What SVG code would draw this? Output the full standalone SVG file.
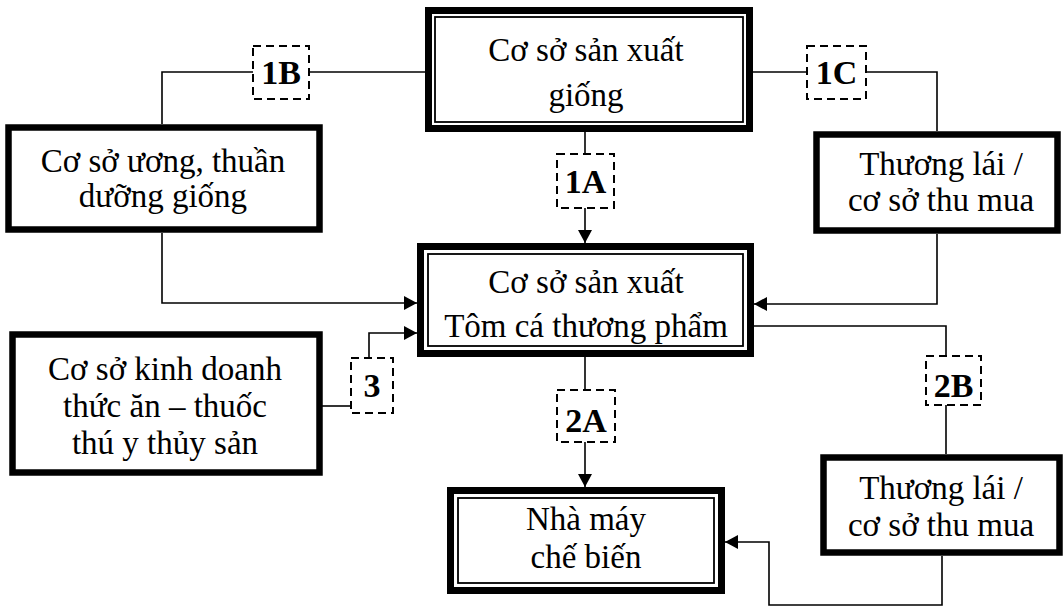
<svg xmlns="http://www.w3.org/2000/svg" width="1063" height="608" viewBox="0 0 1063 608">
  <style>
    .txt { font-family: "Liberation Serif", "Times New Roman", serif; font-size: 33px; fill: #000; text-anchor: middle; }
    .lbl { font-family: "Liberation Serif", "Times New Roman", serif; font-size: 34px; font-weight: bold; fill: #000; text-anchor: middle; }
    .thick { fill: #fff; stroke: #000; stroke-width: 6.5; }
    .outer { fill: #fff; stroke: #000; stroke-width: 7; }
    .inner { fill: none; stroke: #000; stroke-width: 1.8; }
    .dash { fill: #fff; stroke: #000; stroke-width: 2; stroke-dasharray: 8 5; }
    .conn { fill: none; stroke: #000; stroke-width: 1.6; }
  </style>
  <defs>
    <marker id="arrow" markerUnits="userSpaceOnUse" markerWidth="14" markerHeight="14" refX="13" refY="7" orient="auto">
      <path d="M0,0 L13,7 L0,14 z" fill="#000"/>
    </marker>
  </defs>
  <rect width="1063" height="608" fill="#fff"/>

  <!-- connectors -->
  <g id="connectors">
    <path class="conn" d="M585,132 V154"/>
    <path class="conn" d="M585,208 V243" marker-end="url(#arrow)"/>
    <path class="conn" d="M425,72 H309"/>
    <path class="conn" d="M253,72 H162 V124"/>
    <path class="conn" d="M162,233 V303 H417" marker-end="url(#arrow)"/>
    <path class="conn" d="M322,406 H351"/>
    <path class="conn" d="M369,358 V333 H417" marker-end="url(#arrow)"/>
    <path class="conn" d="M753,72 H807"/>
    <path class="conn" d="M866,72 H937 V131"/>
    <path class="conn" d="M937,234 V304 H754" marker-end="url(#arrow)"/>
    <path class="conn" d="M754,326 H946 V356"/>
    <path class="conn" d="M946,405 V454"/>
    <path class="conn" d="M585,357 V390"/>
    <path class="conn" d="M585,442 V487" marker-end="url(#arrow)"/>
    <path class="conn" d="M942,556 V605 H769 V542 H725" marker-end="url(#arrow)"/>
  </g>

  <!-- seed production (top) -->
  <g id="node-giong">
    <rect class="outer" x="428.5" y="10.5" width="321" height="118"/>
    <rect class="inner" x="435" y="17" width="308" height="105"/>
    <text class="txt" x="586" y="61">Cơ sở sản xuất</text>
    <text class="txt" x="586" y="106">giống</text>
  </g>

  <!-- nursery -->
  <g id="node-uong">
    <rect class="thick" x="8.5" y="127.5" width="311" height="102"/>
    <text class="txt" x="163" y="172">Cơ sở ương, thuần</text>
    <text class="txt" x="163" y="207">dưỡng giống</text>
  </g>

  <!-- trader (top right) -->
  <g id="node-thuonglai1">
    <rect class="thick" x="816.5" y="134.5" width="241" height="96"/>
    <text class="txt" x="941" y="175">Thương lái /</text>
    <text class="txt" x="941" y="211">cơ sở thu mua</text>
  </g>

  <!-- commercial farming (center) -->
  <g id="node-thuongpham">
    <rect class="outer" x="420.5" y="246.5" width="330" height="107"/>
    <rect class="inner" x="428" y="254" width="315" height="92"/>
    <text class="txt" x="586" y="293">Cơ sở sản xuất</text>
    <text class="txt" x="586" y="337">Tôm cá thương phẩm</text>
  </g>

  <!-- feed and veterinary supplies -->
  <g id="node-thucan">
    <rect class="thick" x="12.5" y="334.5" width="307" height="138"/>
    <text class="txt" x="165" y="380">Cơ sở kinh doanh</text>
    <text class="txt" x="165" y="417">thức ăn – thuốc</text>
    <text class="txt" x="165" y="454">thú y thủy sản</text>
  </g>

  <!-- trader (bottom right) -->
  <g id="node-thuonglai2">
    <rect class="thick" x="823.5" y="457.5" width="236" height="95"/>
    <text class="txt" x="941" y="499">Thương lái /</text>
    <text class="txt" x="941" y="536">cơ sở thu mua</text>
  </g>

  <!-- processing plant -->
  <g id="node-nhamay">
    <rect class="outer" x="450.5" y="490.5" width="271" height="100"/>
    <rect class="inner" x="458" y="498" width="256" height="85"/>
    <text class="txt" x="586" y="530">Nhà máy</text>
    <text class="txt" x="586" y="568">chế biến</text>
  </g>

  <!-- flow labels -->
  <g id="label-1A">
    <rect class="dash" x="557" y="154" width="57" height="54"/>
    <text class="lbl" x="585.5" y="193">1A</text>
  </g>
  <g id="label-1B">
    <rect class="dash" x="253" y="46" width="56" height="53"/>
    <text class="lbl" x="281" y="84">1B</text>
  </g>
  <g id="label-1C">
    <rect class="dash" x="807" y="46" width="59" height="53"/>
    <text class="lbl" x="836.5" y="84">1C</text>
  </g>
  <g id="label-2A">
    <rect class="dash" x="557" y="390" width="58" height="52"/>
    <text class="lbl" x="586" y="432">2A</text>
  </g>
  <g id="label-2B">
    <rect class="dash" x="926" y="356" width="55" height="49"/>
    <text class="lbl" x="953.5" y="397">2B</text>
  </g>
  <g id="label-3">
    <rect class="dash" x="351" y="358" width="42" height="55"/>
    <text class="lbl" x="372" y="397">3</text>
  </g>
</svg>
